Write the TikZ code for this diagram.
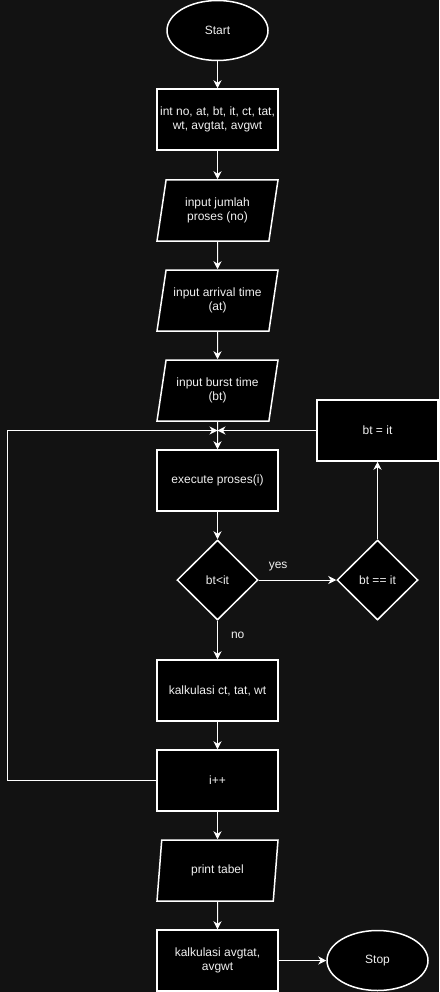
\documentclass[tikz,border=0pt]{standalone}
\usepackage{fontspec}
\setmainfont{Liberation Sans}
\usetikzlibrary{arrows.meta,shapes.geometric,calc}
\definecolor{bgdark}{HTML}{121212}
\definecolor{txt}{HTML}{F0F0F0}
\tikzset{
  x=1pt, y=-1pt,
  base/.style={draw=white, line width=1.5pt, fill=black, text=txt,
    font=\fontsize{12}{14}\selectfont, align=center, inner sep=2pt},
  terminal/.style={base, ellipse, minimum width=101pt, minimum height=60pt},
  process/.style={base, rectangle, minimum width=121pt, minimum height=61pt},
  io/.style={base, trapezium, trapezium left angle=72.7, trapezium right angle=107.3,
    trapezium stretches body, minimum width=121pt, minimum height=61pt},
  decision/.style={base, diamond, minimum width=81pt, minimum height=80pt, inner sep=0pt},
  arr/.style={draw=white, line width=1pt, -{Stealth[length=8pt,width=8pt,inset=2.5pt]}},
  lbl/.style={text=txt, font=\fontsize{12}{14}\selectfont, inner sep=0pt}
}
\begin{document}
\begin{tikzpicture}
\fill[bgdark] (0,0) rectangle (439,992);
\useasboundingbox (0,0) rectangle (439,992);

% main column
\node[terminal] (start) at (217.5,30.5) {Start};
\node[process]  (decl)  at (217.5,119.5) {int no, at, bt, it, ct, tat,\\wt, avgtat, avgwt};
\node[io]       (inno)  at (217.5,210.5) {input jumlah\\proses (no)};
\node[io]       (inat)  at (217.5,300.5) {input arrival time\\(at)};
\node[io]       (inbt)  at (217.5,390.5) {input burst time\\(bt)};
\node[process]  (exec)  at (217.5,480.5) {execute proses(i)};
\node[decision] (cmp)   at (217.5,580)   {bt<it};
\node[process]  (calc)  at (217.5,690.5) {kalkulasi ct, tat, wt};
\node[process]  (inc)   at (217.5,780.5) {i++};
\node[io]       (print) at (217.5,870.5) {print tabel};
\node[process]  (avg)   at (217.5,960.5) {kalkulasi avgtat,\\avgwt};
\node[terminal] (stop)  at (377.5,960.5) {Stop};

% right branch
\node[decision] (eq)    at (377.5,580)   {bt == it};
\node[process]  (set)   at (377.5,430.5) {bt = it};

% junction above the loop body and left return rail
\coordinate (join) at (217.5,430.5);
\coordinate (rail) at (7.5,0);

\draw[arr] (start) -- (decl);
\draw[arr] (decl) -- (inno);
\draw[arr] (inno) -- (inat);
\draw[arr] (inat) -- (inbt);
\draw[arr] (inbt) -- (exec);
\draw[arr] (exec) -- (cmp);
\draw[arr] (cmp) -- node[lbl, pos=0.375, anchor=west, xshift=13pt] {no} (calc);
\draw[arr] (cmp) -- node[lbl, pos=0.25, anchor=south, yshift=9pt] {yes} (eq);
\draw[arr] (eq) -- (set);
\draw[arr] (set) -- (join);
\draw[arr] (inc.west) -- (inc.west -| rail) |- (join);
\draw[arr] (calc) -- (inc);
\draw[arr] (inc) -- (print);
\draw[arr] (print) -- (avg);
\draw[arr] (avg) -- (stop);
\end{tikzpicture}
\end{document}
